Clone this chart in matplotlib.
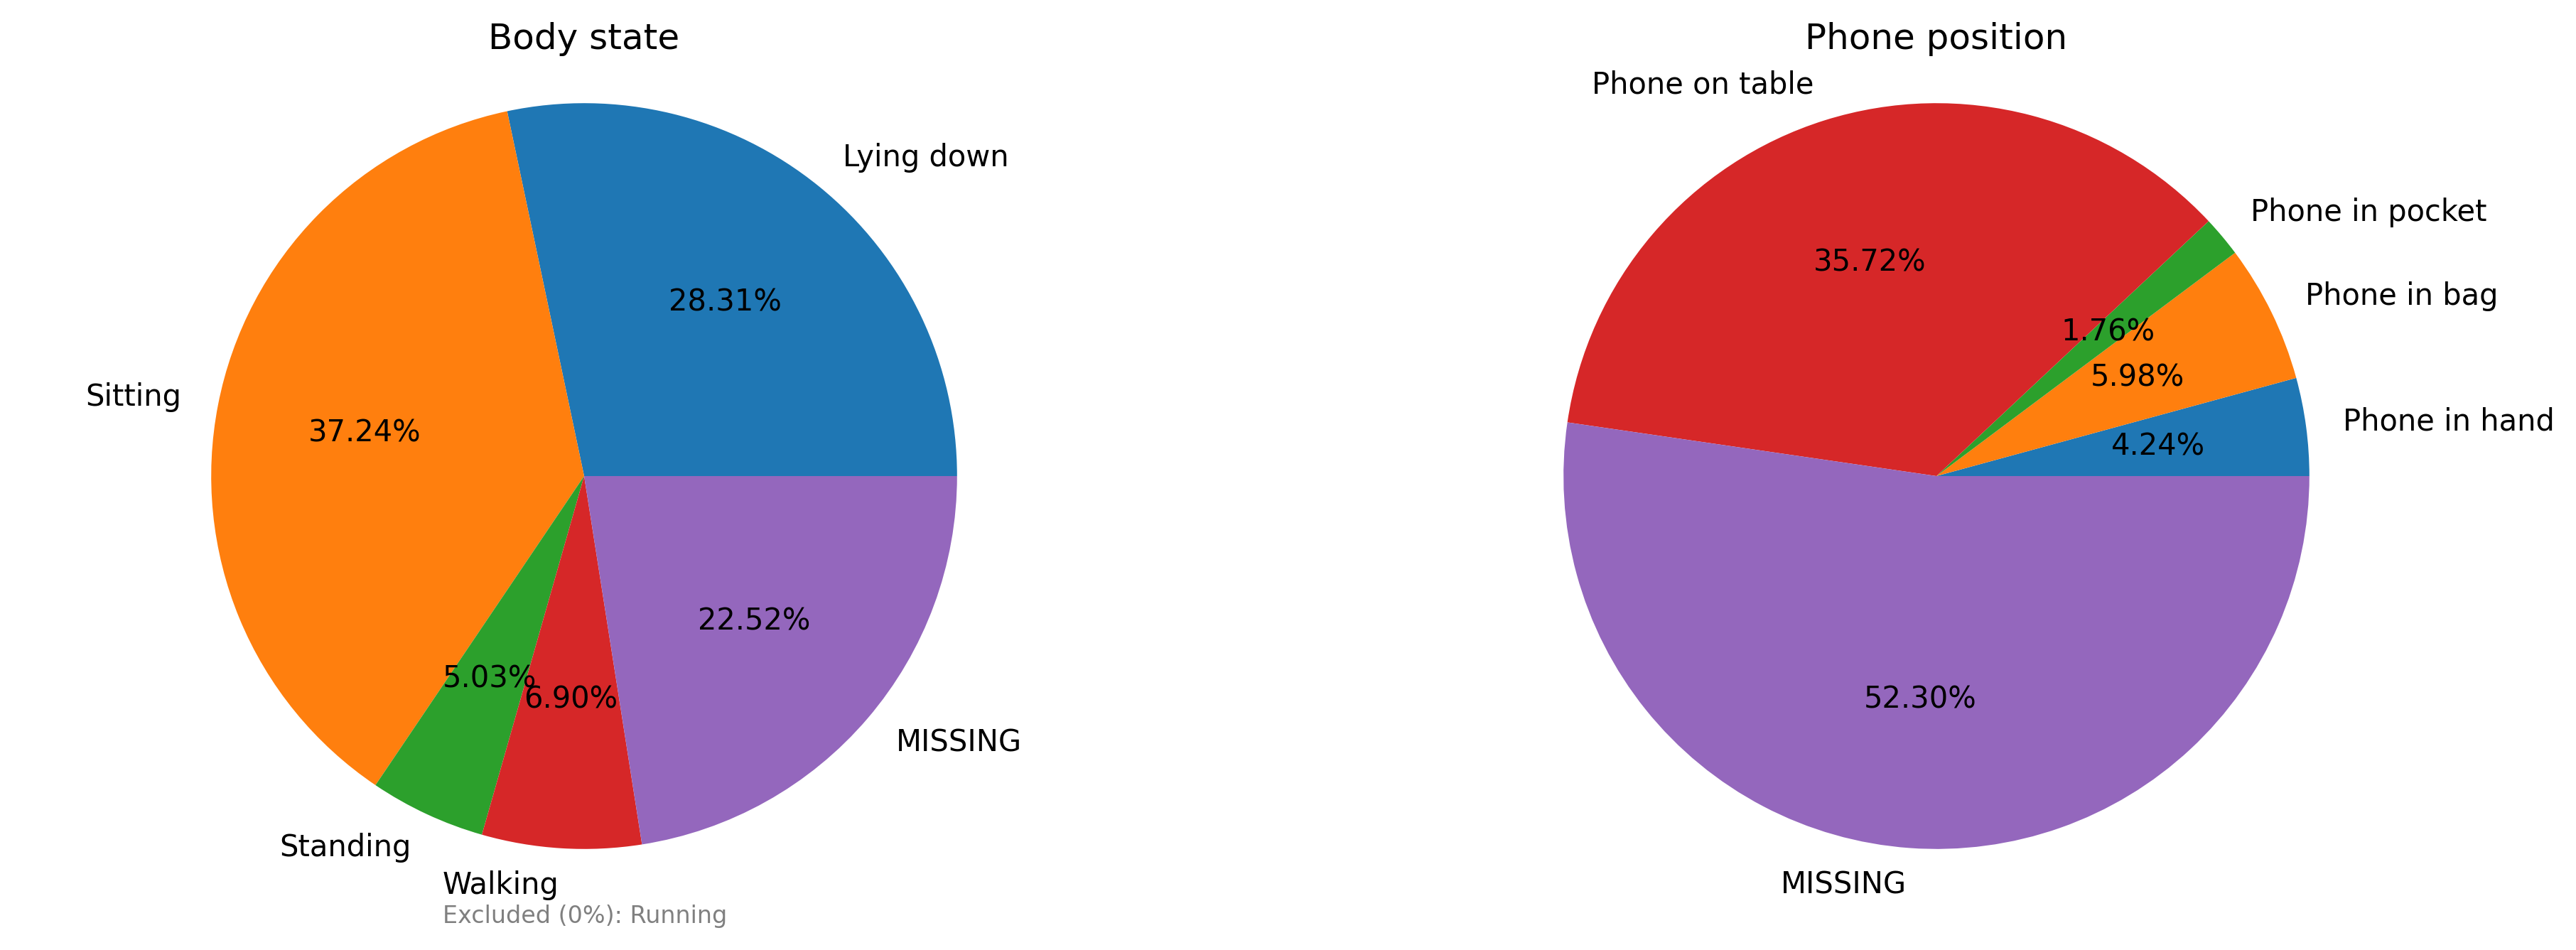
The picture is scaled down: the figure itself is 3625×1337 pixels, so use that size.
import matplotlib

matplotlib.use("Agg")
import matplotlib.pyplot as plt

# Body state shares (%), Running excluded at 0%
body_labels = ["Lying down", "Sitting", "Standing", "Walking", "MISSING"]
body_values = [28.31, 37.24, 5.03, 6.90, 22.52]
body_excluded = ["Running"]

# Phone position shares (%)
phone_labels = ["Phone in hand", "Phone in bag", "Phone in pocket",
                "Phone on table", "MISSING"]
phone_values = [4.24, 5.98, 1.76, 35.72, 52.30]

W, H = 3625, 1337
DPI = 300
fig = plt.figure(figsize=(W / DPI, H / DPI), dpi=DPI)

# square axes boxes (pixels) so the pies land where the reference has them
side = 1312
cy = 670
ax1 = fig.add_axes([(822 - side / 2) / W, (H - cy - side / 2) / H, side / W, side / H])
ax2 = fig.add_axes([(2725 - side / 2) / W, (H - cy - side / 2) / H, side / W, side / H])

for ax, labels, values, title in [
    (ax1, body_labels, body_values, "Body state"),
    (ax2, phone_labels, phone_values, "Phone position"),
]:
    ax.pie(values, labels=labels, autopct="%1.2f%%",
           textprops={"fontsize": 10})
    ax.set_title(title, fontsize=12, y=1 - (69 - (cy - side / 2)) / side, pad=0)

fig.text(623 / W, 1 - 1299 / H, f"Excluded (0%): {', '.join(body_excluded)}",
         fontsize=8, color="gray", va="baseline", ha="left")

fig.savefig("out.png", dpi=DPI)
plt.close(fig)
